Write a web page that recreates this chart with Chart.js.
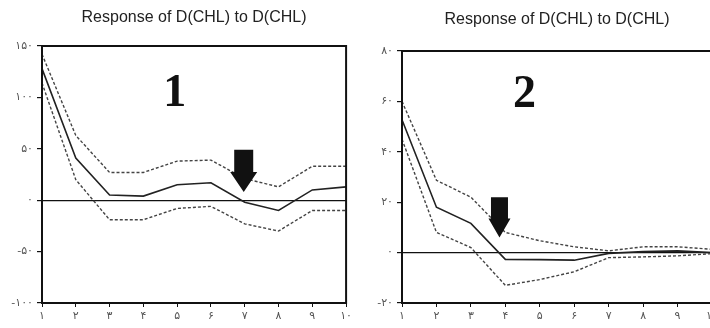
<!DOCTYPE html>
<html>
<head>
<meta charset="utf-8">
<script src="https://cdn.jsdelivr.net/npm/chart.js@4.4.1/dist/chart.umd.min.js"></script>
<style>
  html, body { margin: 0; padding: 0; background: #fff; overflow: hidden; }
  body { width: 710px; height: 328px; position: relative; }
  .box { position: absolute; top: 0; height: 328px; }
</style>
</head>
<body>
<div class="box" style="left:0;width:355px"><canvas id="c1"></canvas></div>
<div class="box" style="left:355px;width:370px"><canvas id="c2"></canvas></div>
<script>
// periods, Persian numerals
const periods = ['۱', '۲', '۳', '۴', '۵', '۶', '۷', '۸', '۹', '۱۰'];
const faDigits = ['۰', '۱', '۲', '۳', '۴', '۵', '۶', '۷', '۸', '۹'];

// panel 1
const resp1  = [128, 41, 5, 4, 15, 17, -2, -10, 10, 13];
const upper1 = [142, 63, 27, 27, 38, 39, 21, 13, 33, 33];
const lower1 = [114, 20, -19, -19, -8, -6, -23, -30, -10, -10];

// panel 2
const resp2  = [52.7, 18, 11.6, -2.7, -2.8, -3, -0.3, 0.4, 0.7, 0];
const upper2 = [60, 28.7, 22, 8, 4.7, 2.3, 0.7, 2.3, 2.3, 1.3];
const lower2 = [45, 8, 2, -13, -10.7, -7.6, -2, -1.7, -1.3, -0.4];

const title = 'Response of D(CHL) to D(CHL)';

function fa(v) {
  const s = String(Math.abs(v)).split('').map(d => faDigits[+d]).join('');
  return v < 0 ? '-' + s : s;
}

// frame, big number and arrow
const decor = {
  id: 'decor',
  afterDraw(chart, args, opts) {
    const { ctx, chartArea: a, scales } = chart;
    ctx.save();
    ctx.strokeStyle = '#111';
    ctx.lineWidth = 2;
    ctx.strokeRect(a.left, a.top, a.right - a.left, a.bottom - a.top);

    ctx.fillStyle = '#111';
    ctx.font = 'bold 46px "Liberation Serif", "DejaVu Serif", serif';
    ctx.textAlign = 'center';
    ctx.textBaseline = 'middle';
    // x positions are category indexes (0 = first period)
    ctx.fillText(opts.label, scales.x.getPixelForValue(opts.labelAt[0]), scales.y.getPixelForValue(opts.labelAt[1]));

    const ax = scales.x.getPixelForValue(opts.arrow[0]);
    const top = scales.y.getPixelForValue(opts.arrow[1]);
    const tip = scales.y.getPixelForValue(opts.arrow[2]);
    const sw = opts.shaft / 2, hw = opts.head / 2;
    const hy = tip - opts.headLen;
    ctx.beginPath();
    ctx.moveTo(ax - sw, top);
    ctx.lineTo(ax + sw, top);
    ctx.lineTo(ax + sw, hy);
    ctx.lineTo(ax + hw, hy);
    ctx.lineTo(ax, tip);
    ctx.lineTo(ax - hw, hy);
    ctx.lineTo(ax - sw, hy);
    ctx.closePath();
    ctx.fill();
    ctx.restore();
  }
};

function makeChart(id, resp, upper, lower, yMin, yMax, step, cfg) {
  const band = { borderColor: '#444', borderWidth: 1.4, borderDash: [3, 2], pointRadius: 0, tension: 0 };
  return new Chart(document.getElementById(id), {
    type: 'line',
    data: {
      labels: periods,
      datasets: [
        Object.assign({ data: upper }, band),
        Object.assign({ data: lower }, band),
        { data: resp, borderColor: '#222', borderWidth: 1.6, pointRadius: 0, tension: 0 }
      ]
    },
    options: {
      responsive: true,
      maintainAspectRatio: false,
      animation: false,
      layout: { padding: { left: 0, right: cfg.padRight, top: 0, bottom: 0 } },
      plugins: {
        legend: { display: false },
        tooltip: { enabled: false },
        title: {
          display: true,
          text: title,
          fullSize: false,
          color: '#222',
          font: { family: '"Liberation Sans", Arial, sans-serif', size: 16, weight: 'normal', lineHeight: 1.2 },
          padding: { top: cfg.titleTop, bottom: cfg.titleBottom }
        },
        decor: cfg.decor
      },
      scales: {
        x: {
          type: 'category',
          offset: false,
          afterFit(s) { s.height = 25; },
          border: { display: false },
          grid: { drawOnChartArea: false, tickLength: 4, color: '#111', lineWidth: 1 },
          ticks: { color: '#555', padding: 3, maxRotation: 0, autoSkip: false,
                   font: { family: '"DejaVu Sans", sans-serif', size: 11 } }
        },
        y: {
          min: yMin, max: yMax,
          afterFit(s) { s.width = cfg.yWidth; },
          border: { display: false },
          grid: {
            tickLength: 5,
            color: c => c.tick && c.tick.value === 0 ? '#111' : 'rgba(0,0,0,0)',
            tickColor: '#111',
            lineWidth: 1.2
          },
          ticks: { stepSize: step, color: '#555', padding: 4,
                   font: { family: '"DejaVu Sans", sans-serif', size: 11 },
                   callback: v => fa(v) }
        }
      }
    },
    plugins: [decor]
  });
}

makeChart('c1', resp1, upper1, lower1, -100, 150, 50, {
  padRight: 6, yWidth: 42, titleTop: 8, titleBottom: 18.8,
  decor: { label: '1', labelAt: [3.93, 103], arrow: [5.97, 49, 8], shaft: 19, head: 27, headLen: 20 }
});

makeChart('c2', resp2, upper2, lower2, -20, 80, 20, {
  padRight: 13, yWidth: 47, titleTop: 10, titleBottom: 21.8,
  decor: { label: '2', labelAt: [3.56, 62.4], arrow: [2.83, 22, 6], shaft: 17, head: 22, headLen: 19 }
});
</script>
</body>
</html>
